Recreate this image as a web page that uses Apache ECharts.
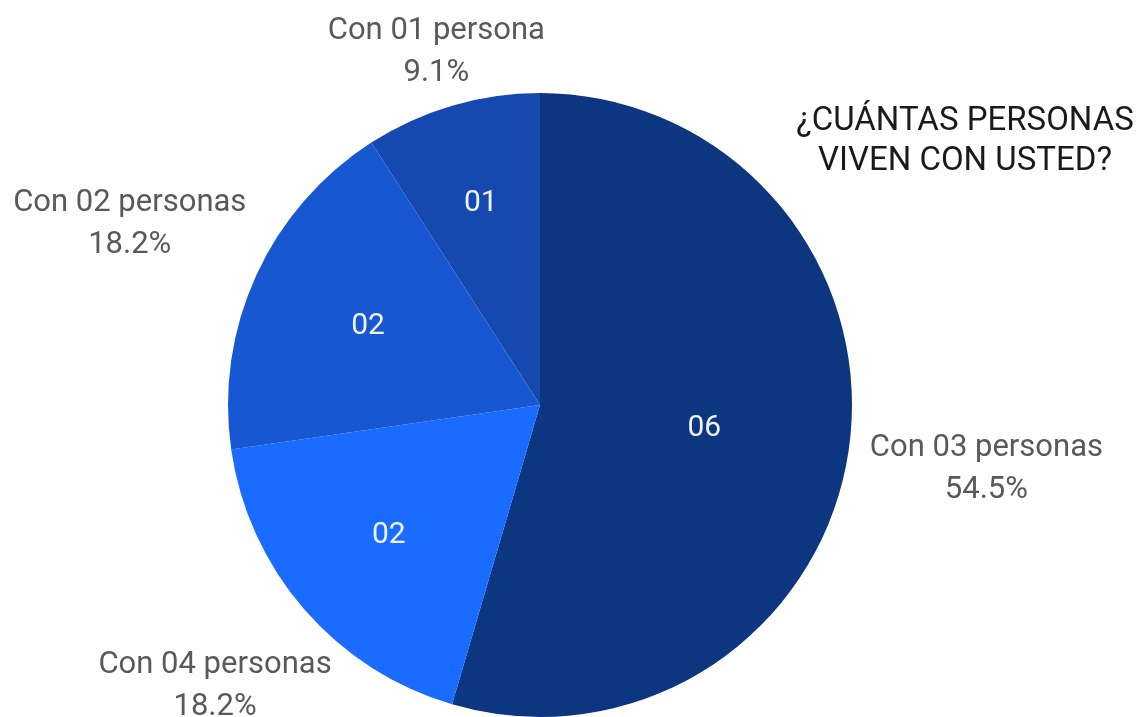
<!DOCTYPE html>
<html>
<head>
<meta charset="utf-8">
<script src="https://cdn.jsdelivr.net/npm/echarts@6/dist/echarts.min.js"></script>
<style>
  html, body { margin: 0; padding: 0; background: #fff; }
  #chart { width: 1139px; height: 717px; }
</style>
</head>
<body>
<div id="chart"></div>
<script>
// datos (sentido horario desde arriba)
const categories = ['Con 03 personas', 'Con 04 personas', 'Con 02 personas', 'Con 01 persona']
const counts = [6, 2, 2, 1]
const colors = ['#0d3680', '#1a6bff', '#1857d2', '#1549b0']
const titleText = '¿CUÁNTAS PERSONAS\nVIVEN CON USTED?'

// geometria del pie
const CX = 540
const CY = 405
const R = 312
// distancia de cada etiqueta al centro (como en el original)
const insideDist = [166, 200, 189, 210]
const outsideDist = [451, 430, 451, 368]
// pequeño ajuste vertical de las etiquetas externas
const outsideDy = [0, 0, 7, 0]

const FONT = 'Roboto'

const myChart = echarts.init(document.getElementById('chart'))

const total = counts.reduce((a, b) => a + b, 0)
// angulo medio de cada sector (grados, horario desde arriba)
const midAngles = []
let acc = 0
counts.forEach((v) => {
  midAngles.push(((acc + v / 2) / total) * 360)
  acc += v
})

// coloca la etiqueta sobre el radio medio del sector
function radialLayout(dist, dy) {
  return function (p) {
    const a = (midAngles[p.dataIndex] * Math.PI) / 180
    return {
      x: CX + dist[p.dataIndex] * Math.sin(a),
      y: CY - dist[p.dataIndex] * Math.cos(a) + (dy ? dy[p.dataIndex] : 0),
      align: 'center',
      verticalAlign: 'middle'
    }
  }
}

const option = {
  animation: false,
  backgroundColor: '#ffffff',
  title: {
    text: titleText,
    left: 960,
    top: 97,
    textAlign: 'center',
    textStyle: {
      fontFamily: FONT,
      fontSize: 33,
      fontWeight: 'normal',
      color: '#1a1a1a',
      lineHeight: 40,
      align: 'center'
    }
  },
  series: [
    {
      // pie visible con los valores dentro
      type: 'pie',
      center: [CX, CY],
      radius: [0, R],
      startAngle: 90,
      clockwise: true,
      silent: true,
      data: categories.map((name, i) => ({
        name: name,
        value: counts[i],
        itemStyle: { color: colors[i] }
      })),
      itemStyle: { borderWidth: 0 },
      label: {
        show: true,
        position: 'inside',
        formatter: (p) => String(p.value).padStart(2, '0'),
        fontFamily: FONT,
        fontSize: 30,
        color: '#eef3fb'
      },
      labelLine: { show: false },
      labelLayout: radialLayout(insideDist)
    },
    {
      // capa transparente para las etiquetas externas
      type: 'pie',
      center: [CX, CY],
      radius: [0, R],
      startAngle: 90,
      clockwise: true,
      silent: true,
      percentPrecision: 1,
      data: categories.map((name, i) => ({ name: name, value: counts[i] })),
      itemStyle: { color: 'rgba(0,0,0,0)' },
      label: {
        show: true,
        position: 'outside',
        alignTo: 'none',
        overflow: 'none',
        width: 300,
        formatter: '{b}\n{d}%',
        fontFamily: FONT,
        fontSize: 31,
        lineHeight: 42,
        color: '#595959',
        align: 'center'
      },
      labelLine: { show: false, length: 10, length2: 10 },
      labelLayout: radialLayout(outsideDist, outsideDy)
    }
  ]
}

myChart.setOption(option)
</script>
</body>
</html>
